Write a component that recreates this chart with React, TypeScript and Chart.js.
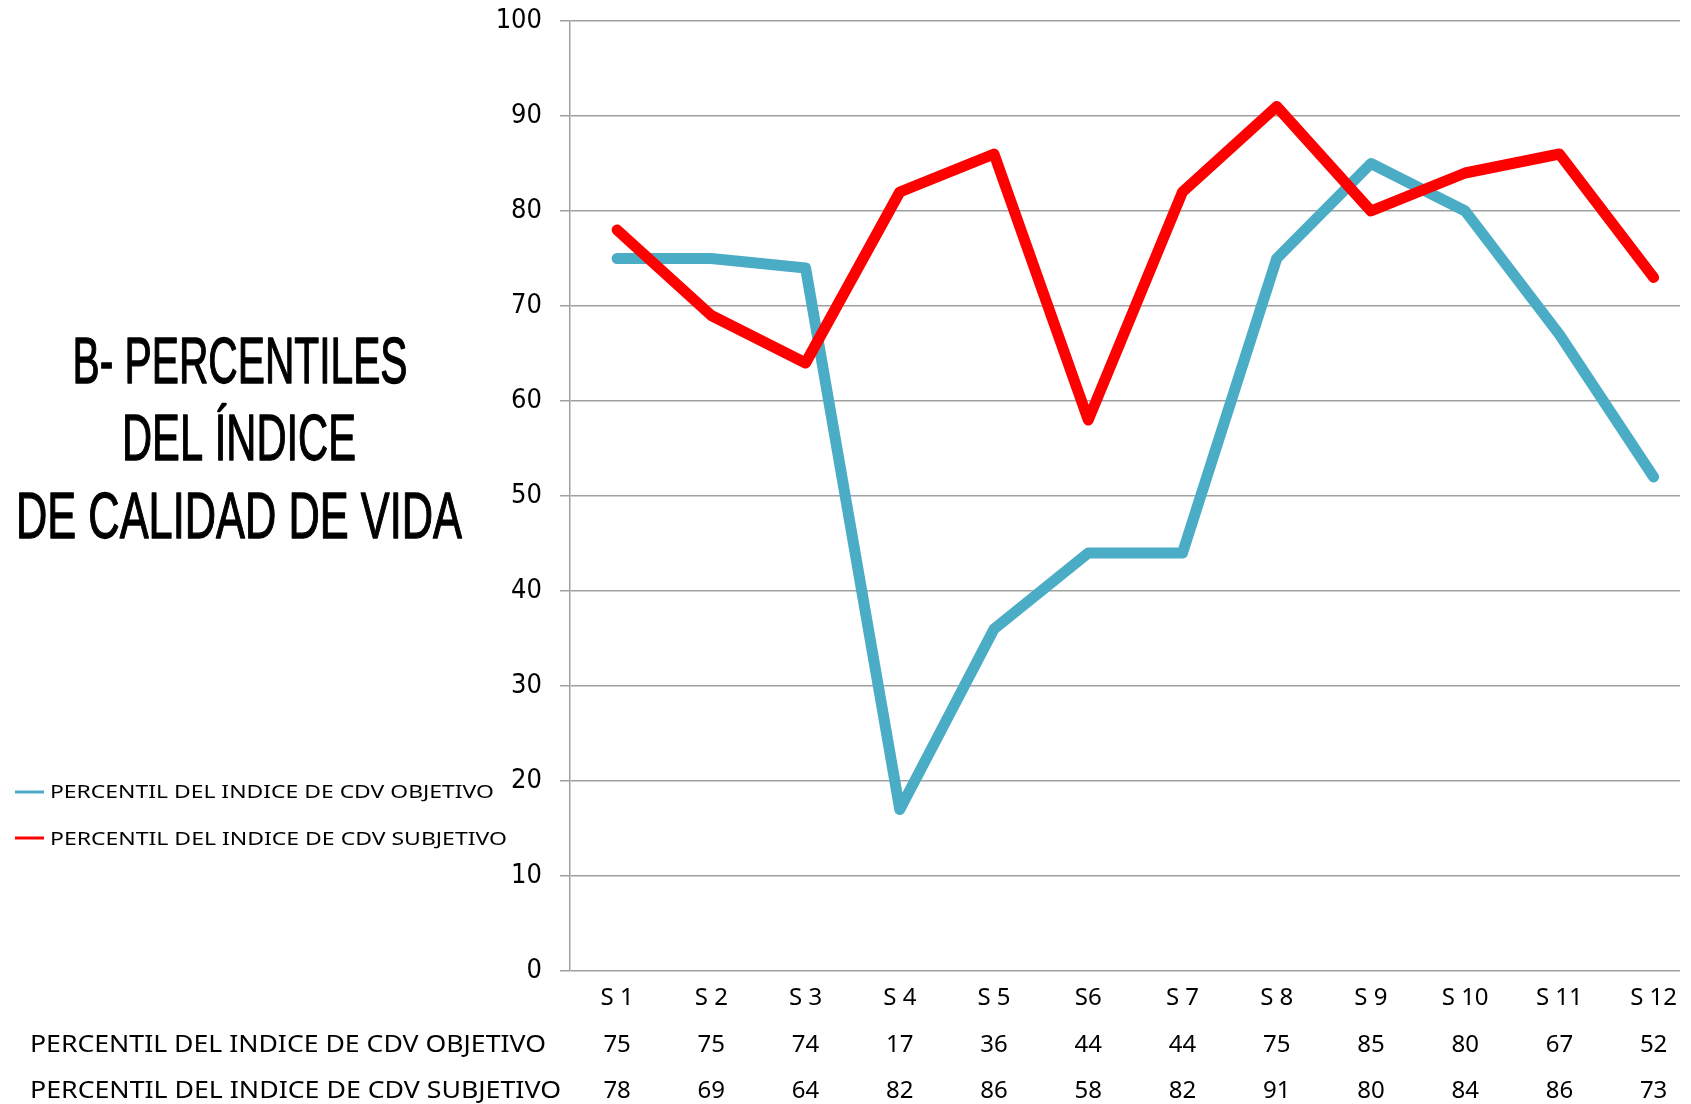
import React, { useEffect, useRef } from 'react';
import { Chart, registerables } from 'chart.js';

Chart.register(...registerables);

const categories = ['S 1', 'S 2', 'S 3', 'S 4', 'S 5', 'S6', 'S 7', 'S 8', 'S 9', 'S 10', 'S 11', 'S 12'];
const objetivo = [75, 75, 74, 17, 36, 44, 44, 75, 85, 80, 67, 52];
const subjetivo = [78, 69, 64, 82, 86, 58, 82, 91, 80, 84, 86, 73];
const seriesLabels = ['PERCENTIL DEL INDICE DE CDV OBJETIVO', 'PERCENTIL DEL INDICE DE CDV SUBJETIVO'];
const seriesColors = ['#4BACC6', '#FF0000'];
const titleLines = ['B- PERCENTILES', 'DEL ÍNDICE', 'DE CALIDAD DE VIDA'];
const yMin = 0;
const yMax = 100;
const yStep = 10;

const W = 1691;
const H = 1104;

function fitText(ctx: CanvasRenderingContext2D, text: string, x: number, y: number, width: number, align: CanvasTextAlign, stroke = 0) {
  const m = ctx.measureText(text).width || 1;
  const s = width / m;
  ctx.save();
  ctx.translate(x, y);
  ctx.scale(s, 1);
  ctx.textAlign = align;
  ctx.fillText(text, 0, 0);
  if (stroke > 0) {
    ctx.strokeStyle = ctx.fillStyle as string;
    ctx.lineWidth = stroke;
    ctx.lineJoin = 'round';
    ctx.strokeText(text, 0, 0);
  }
  ctx.restore();
}

const overlayPlugin = {
  id: 'overlay',
  afterDraw(chart: any) {
    const ctx: CanvasRenderingContext2D = chart.ctx;
    const xs = chart.scales.x;
    ctx.save();
    ctx.fillStyle = '#000';
    ctx.textBaseline = 'alphabetic';

    // Title
    ctx.font = '65px "Liberation Sans Narrow", "Liberation Sans", sans-serif';
    const tBase = [383, 460, 538];
    const tCenter = [240, 239, 239];
    const tWidth = [335, 234, 446];
    titleLines.forEach((t, i) => fitText(ctx, t, tCenter[i], tBase[i], tWidth[i], 'center', 1.3));

    // Legend
    const lgY = [792, 838];
    const lgBase = [798, 845];
    const lgW = [444, 457];
    ctx.font = '18px "Noto Sans", sans-serif';
    seriesLabels.forEach((lbl, i) => {
      ctx.strokeStyle = seriesColors[i];
      ctx.lineWidth = 3;
      ctx.beginPath();
      ctx.moveTo(15, lgY[i]);
      ctx.lineTo(44, lgY[i]);
      ctx.stroke();
      fitText(ctx, lbl, 50, lgBase[i], lgW[i], 'left');
    });

    // Data table
    ctx.font = '24px "Noto Sans", sans-serif';
    ctx.textAlign = 'center';
    categories.forEach((c, i) => {
      ctx.fillText(c, xs.getPixelForValue(i + 1), 1005);
    });
    const rows = [objetivo, subjetivo];
    const rowBase = [1052, 1098];
    const rowW = [516, 531];
    rows.forEach((vals, r) => {
      fitText(ctx, seriesLabels[r], 30, rowBase[r], rowW[r], 'left');
      ctx.textAlign = 'center';
      vals.forEach((v, i) => ctx.fillText(String(v), xs.getPixelForValue(i + 1), rowBase[r]));
    });
    ctx.restore();
  },
};

export default function App() {
  const ref = useRef<HTMLCanvasElement | null>(null);
  useEffect(() => {
    if (!ref.current) return;
    const chart = new Chart(ref.current, {
      type: 'line',
      data: {
        datasets: [
          {
            label: seriesLabels[0],
            data: objetivo.map((v, i) => ({ x: i + 1, y: v })),
            borderColor: seriesColors[0],
            backgroundColor: seriesColors[0],
            borderWidth: 11,
            pointRadius: 0,
            tension: 0,
            borderCapStyle: 'round',
            borderJoinStyle: 'round',
            order: 1,
          },
          {
            label: seriesLabels[1],
            data: subjetivo.map((v, i) => ({ x: i + 1, y: v })),
            borderColor: seriesColors[1],
            backgroundColor: seriesColors[1],
            borderWidth: 11,
            pointRadius: 0,
            tension: 0,
            borderCapStyle: 'round',
            borderJoinStyle: 'round',
            order: 0,
          },
        ],
      },
      options: {
        animation: false,
        responsive: false,
        devicePixelRatio: 1,
        layout: { padding: { left: 0, right: 11, top: 21, bottom: 133 } },
        plugins: { legend: { display: false }, tooltip: { enabled: false } },
        scales: {
          x: { type: 'linear', min: 0.5, max: 12.28, display: false },
          y: {
            min: yMin,
            max: yMax,
            ticks: {
              stepSize: yStep,
              color: '#000',
              padding: 18,
              font: { family: '"DejaVu Sans Condensed", "DejaVu Sans", sans-serif', size: 27 },
            },
            grid: { color: '#a0a0a0', lineWidth: 1.5, tickLength: 10, drawTicks: true },
            border: { display: true, color: '#a0a0a0', width: 1.5 },
            afterFit: (s: any) => {
              s.width = 570;
              s.paddingTop = 0;
              s.paddingBottom = 0;
            },
          },
        },
      },
      plugins: [overlayPlugin],
    } as any);
    return () => chart.destroy();
  }, []);
  return (
    <div style={{ position: 'absolute', left: 0, top: 0, width: W, height: H, background: '#fff' }}>
      <canvas ref={ref} width={W} height={H} style={{ display: 'block' }} />
    </div>
  );
}
